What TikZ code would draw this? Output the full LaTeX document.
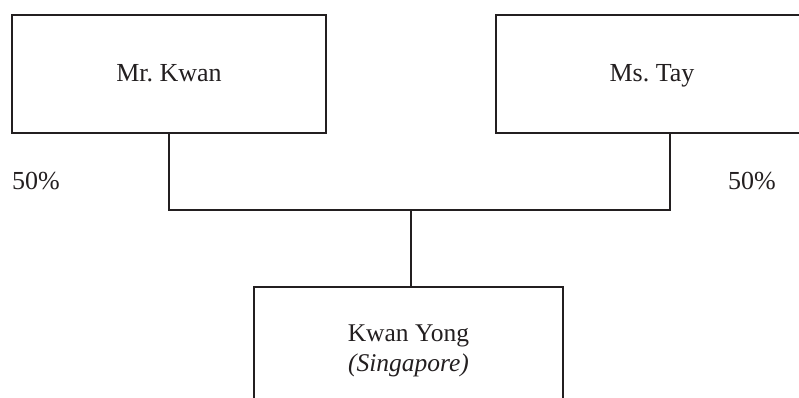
\documentclass[tikz,border=0pt]{standalone}
\usepackage{fontspec}
\setmainfont{Liberation Serif}
\definecolor{ink}{HTML}{231F20}
\frenchspacing
\begin{document}
\begin{tikzpicture}[x=1pt,y=-1pt,
  entity/.style={draw=ink,line width=2.6pt,rectangle,inner sep=0pt,text=ink,
    font=\fontsize{26}{30}\selectfont,align=center},
  pct/.style={text=ink,font=\fontsize{26}{30}\selectfont,inner sep=0pt,anchor=base west},
  link/.style={draw=ink,line width=1.2pt}]
\useasboundingbox (0,0) rectangle (799,398);
\clip (0,0) rectangle (799,398);
\fill[white] (0,0) rectangle (799,398);
\node[entity,minimum width=314pt,minimum height=118pt,text height=20pt,text depth=4pt] (mk) at (169,74) {Mr. Kwan};
\node[entity,minimum width=312pt,minimum height=118pt,text height=20pt,text depth=4pt] (mt) at (652,74) {Ms. Tay};
\node[entity,minimum width=309pt,minimum height=128pt,font=\fontsize{25.5}{30}\selectfont] (ky) at (408.5,351) {Kwan Yong\\\textit{(Singapore)}};
\node[pct] (p1) at (12,189) {50\%};
\node[pct] (p2) at (728,189) {50\%};
\coordinate (j) at (411,210);
\coordinate (tc) at (670,210);
\draw[link] (mk.south) |- (j);
\draw[link] (mt.south -| tc) -- (tc) -- (j);
\draw[link] (j) -- (ky.north -| j);
\end{tikzpicture}
\end{document}
